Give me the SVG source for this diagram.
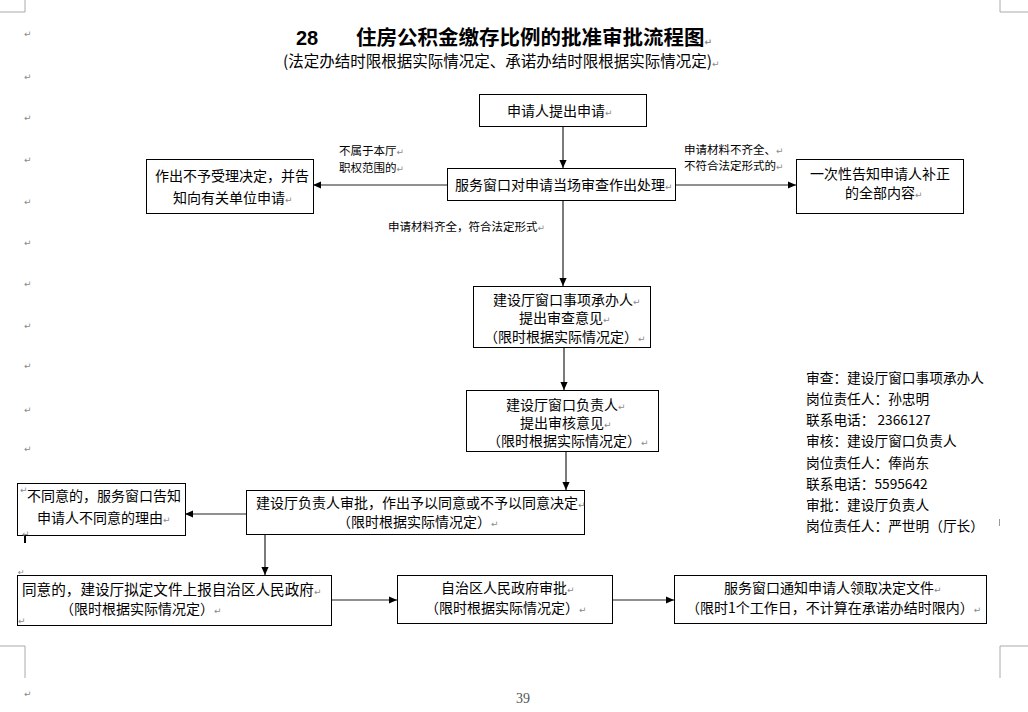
<svg xmlns="http://www.w3.org/2000/svg" width="1028" height="712" viewBox="0 0 1028 712">
<style>
text{font-family:"Noto Sans CJK SC","Liberation Sans",sans-serif;fill:#000}
.t{font-size:14px}
.s{font-size:11.5px}
.r{font-size:13.7px}
.pm{font-size:9px;fill:#8a8a8a;font-family:"DejaVu Sans",sans-serif}
.box{fill:#fff;stroke:#000;stroke-width:1}
.ln{stroke:#222;stroke-width:1.2;fill:none}
.mk{stroke:#aaa;stroke-width:1;fill:none}
</style>
<defs>
<marker id="ah" viewBox="0 0 10 10" refX="10" refY="5" markerWidth="8" markerHeight="8" markerUnits="userSpaceOnUse" orient="auto">
<path d="M0,0.5 L10,5 L0,9.5 z" fill="#000"/>
</marker>
</defs>
<rect width="1028" height="712" fill="#fff"/>

<g id="page-marks">
<path class="mk" d="M0,12 H25 V0 M1028,12 H1000 V0 M0,646 H25 V678 M1028,646 H1000 V678"/>
<text class="pm" x="24" y="37">↵</text>
<text class="pm" x="24" y="80">↵</text>
<text class="pm" x="24" y="121">↵</text>
<text class="pm" x="24" y="163">↵</text>
<text class="pm" x="24" y="205">↵</text>
<text class="pm" x="24" y="246">↵</text>
<text class="pm" x="24" y="287">↵</text>
<text class="pm" x="24" y="329">↵</text>
<text class="pm" x="24" y="369">↵</text>
<text class="pm" x="24" y="413">↵</text>
<text class="pm" x="24" y="452">↵</text>
<text class="pm" x="24" y="697">↵</text>
<line x1="999.5" y1="519" x2="999.5" y2="526" stroke="#999" stroke-width="1"/>
<rect x="24" y="520" width="2" height="23" fill="#000"/>
<text x="523" y="703" text-anchor="middle" style="font-family:'Liberation Serif',serif;font-size:14px;fill:#555">39</text>
</g>

<g id="title">
<text x="296" y="45" style="font-family:'Liberation Sans',sans-serif;font-size:20px;font-weight:bold">28</text>
<text x="356" y="45" style="font-size:20.5px;font-weight:bold">住房公积金缴存比例的批准审批流程图<tspan class="pm">↵</tspan></text>
<text x="283" y="67" style="font-size:15.5px">(法定办结时限根据实际情况定、承诺办结时限根据实际情况定)<tspan class="pm">↵</tspan></text>
</g>

<g id="connectors">
<line class="ln" x1="563" y1="126" x2="563" y2="168" marker-end="url(#ah)"/>
<line class="ln" x1="447" y1="185" x2="313" y2="185" marker-end="url(#ah)"/>
<line class="ln" x1="675" y1="185" x2="796" y2="185" marker-end="url(#ah)"/>
<line class="ln" x1="563" y1="200" x2="563" y2="286" marker-end="url(#ah)"/>
<line class="ln" x1="564" y1="347" x2="564" y2="390" marker-end="url(#ah)"/>
<line class="ln" x1="566" y1="451" x2="566" y2="490" marker-end="url(#ah)"/>
<line class="ln" x1="246" y1="514" x2="185" y2="514" marker-end="url(#ah)"/>
<line class="ln" x1="265" y1="534" x2="265" y2="575" marker-end="url(#ah)"/>
<line class="ln" x1="331" y1="600" x2="397" y2="600" marker-end="url(#ah)"/>
<line class="ln" x1="612" y1="600" x2="674" y2="600" marker-end="url(#ah)"/>
<text class="s" x="339" y="155">不属于本厅<tspan class="pm">↵</tspan></text>
<text class="s" x="339" y="172">职权范围的<tspan class="pm">↵</tspan></text>
<text class="s" x="684" y="154">申请材料不齐全、<tspan class="pm">↵</tspan></text>
<text class="s" x="684" y="170">不符合法定形式的<tspan class="pm">↵</tspan></text>
<text class="s" x="388" y="231">申请材料齐全，符合法定形式<tspan class="pm">↵</tspan></text>
</g>

<g id="n1">
<rect class="box" x="479.5" y="94.5" width="167" height="32"/>
<text class="t" x="507" y="116">申请人提出申请<tspan class="pm">↵</tspan></text>
</g>
<g id="n2">
<rect class="box" x="447.5" y="168.5" width="228" height="32"/>
<text class="t" x="455" y="190">服务窗口对申请当场审查作出处理<tspan class="pm">↵</tspan></text>
</g>
<g id="n3">
<rect class="box" x="146.5" y="159.5" width="167" height="54"/>
<text class="t" x="155" y="181">作出不予受理决定，并告</text>
<text class="t" x="173" y="203">知向有关单位申请<tspan class="pm">↵</tspan></text>
</g>
<g id="n4">
<rect class="box" x="796.5" y="159.5" width="167" height="54"/>
<text class="t" x="810" y="179">一次性告知申请人补正</text>
<text class="t" x="845" y="198">的全部内容<tspan class="pm">↵</tspan></text>
</g>
<g id="n5">
<rect class="box" x="473.5" y="286.5" width="177" height="61"/>
<text class="t" x="493" y="305">建设厅窗口事项承办人<tspan class="pm">↵</tspan></text>
<text class="t" x="519" y="323">提出审查意见<tspan class="pm">↵</tspan></text>
<text class="t" x="484" y="342">（限时根据实际情况定）<tspan class="pm">↵</tspan></text>
</g>
<g id="n6">
<rect class="box" x="466.5" y="390.5" width="192" height="61"/>
<text class="t" x="506" y="410">建设厅窗口负责人<tspan class="pm">↵</tspan></text>
<text class="t" x="520" y="428">提出审核意见<tspan class="pm">↵</tspan></text>
<text class="t" x="487" y="446">（限时根据实际情况定）<tspan class="pm">↵</tspan></text>
</g>
<g id="n7">
<rect class="box" x="246.5" y="490.5" width="338" height="44"/>
<text class="t" x="256" y="508">建设厅负责人审批，作出予以同意或不予以同意决定<tspan class="pm">↵</tspan></text>
<text class="t" x="337" y="527">（限时根据实际情况定）<tspan class="pm">↵</tspan></text>
</g>
<g id="n8">
<rect class="box" x="17.5" y="483.5" width="168" height="52"/>
<text class="pm" x="20" y="493">↵</text>
<text class="t" x="27" y="501">不同意的，服务窗口告知</text>
<text class="t" x="37" y="523">申请人不同意的理由<tspan class="pm">↵</tspan></text>
<text class="pm" x="22" y="537">↵</text>
</g>
<g id="n9">
<rect class="box" x="17.5" y="575.5" width="314" height="50"/>
<text class="pm" x="18" y="575" style="font-size:8px">↵</text>
<text class="t" x="22" y="595" style="font-size:14.6px">同意的，建设厅拟定文件上报自治区人民政府<tspan class="pm">↵</tspan></text>
<text class="t" x="60" y="614">（限时根据实际情况定）<tspan class="pm">↵</tspan></text>
<text class="pm" x="18" y="624">↵</text>
</g>
<g id="n10">
<rect class="box" x="397.5" y="575.5" width="215" height="48"/>
<text class="t" x="441" y="593">自治区人民政府审批<tspan class="pm">↵</tspan></text>
<text class="t" x="425" y="613">（限时根据实际情况定）<tspan class="pm">↵</tspan></text>
</g>
<g id="n11">
<rect class="box" x="674.5" y="575.5" width="312" height="48"/>
<text class="t" x="724" y="593">服务窗口通知申请人领取决定文件<tspan class="pm">↵</tspan></text>
<text class="t" x="686" y="613">（限时1个工作日，不计算在承诺办结时限内）<tspan class="pm">↵</tspan></text>
</g>

<g id="responsibles">
<text class="r" x="806" y="383">审查：建设厅窗口事项承办人</text>
<text class="r" x="806" y="404">岗位责任人：孙忠明</text>
<text class="r" x="806" y="425">联系电话： 2366127</text>
<text class="r" x="806" y="446">审核：建设厅窗口负责人</text>
<text class="r" x="806" y="468">岗位责任人：俸尚东</text>
<text class="r" x="806" y="489">联系电话：5595642</text>
<text class="r" x="806" y="510">审批：建设厅负责人</text>
<text class="r" x="806" y="531">岗位责任人：严世明（厅长）</text>
</g>
</svg>
